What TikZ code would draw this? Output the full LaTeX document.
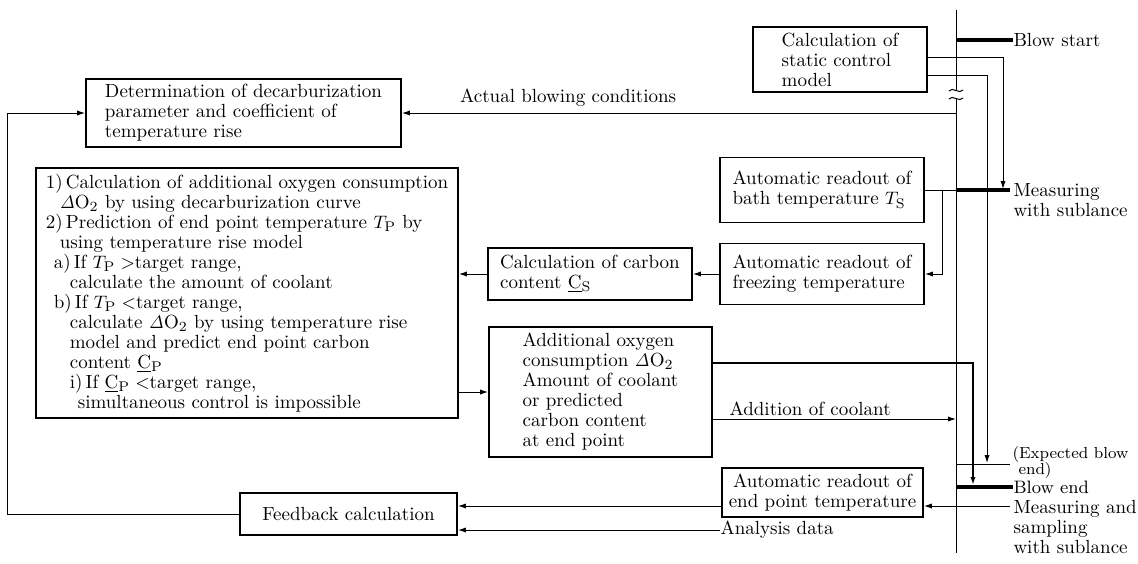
\documentclass[tikz,border=0pt]{standalone}
\usetikzlibrary{arrows.meta}

\tikzset{
  box/.style={draw, line width=0.9pt, inner sep=0pt, align=left,
              font=\fontsize{9.5}{10}\selectfont},
  lbl/.style={inner sep=0pt, align=left, font=\fontsize{9.5}{10}\selectfont},
  arr/.style={-{Latex[length=4pt,width=2.6pt]}},
  heavy/.style={line width=1.6pt},
}

\begin{document}
\begin{tikzpicture}[x=0.5pt,y=-0.5pt,line width=0.5pt]
   \useasboundingbox (0,0) rectangle (1138,563);

   % boxes
   \node[box, minimum width=157.5pt, minimum height=34pt] (det) at (243.5,113)
      {Determination of decarburization\\parameter and coefficient of\\temperature rise};
   \node[box, minimum width=87pt, minimum height=32.5pt] (static) at (840,59.5)
      {Calculation of\\static control\\model};
   \node[box, minimum width=211pt, minimum height=125pt] (calc) at (247,293)
      {1)\,Calculation of additional oxygen consumption\\
       \hspace*{7pt}$\mathit{\Delta}$O$_2$ by using decarburization curve\\
       2)\,Prediction of end point temperature $T_{\mathrm P}$ by\\
       \hspace*{7pt}using temperature rise model\\
       \hspace*{4pt}a)\,If $T_{\mathrm P}>$target range,\\
       \hspace*{12pt}calculate the amount of coolant\\
       \hspace*{4pt}b)\,If $T_{\mathrm P}<$target range,\\
       \hspace*{12pt}calculate $\mathit{\Delta}$O$_2$ by using temperature rise\\
       \hspace*{12pt}model and predict end point carbon\\
       \hspace*{12pt}content \underline{C}$_{\mathrm P}$\\
       \hspace*{12pt}i)\,If \underline{C}$_{\mathrm P}<$target range,\\
       \hspace*{16pt}simultaneous control is impossible};
   \node[box, minimum width=102pt, minimum height=32.5pt] (bath) at (822,190)
      {Automatic readout of\\bath temperature $T_{\mathrm S}$};
   \node[box, minimum width=102pt, minimum height=30.5pt] (freeze) at (822,274)
      {Automatic readout of\\freezing temperature};
   \node[box, minimum width=102pt, minimum height=26pt] (carbon) at (590,274)
      {Calculation of carbon\\content \underline{C}$_{\mathrm S}$};
   \node[box, minimum width=111.5pt, minimum height=65pt] (addox) at (600.5,392)
      {Additional oxygen\\consumption $\mathit{\Delta}$O$_2$\\Amount of coolant\\or predicted\\carbon content\\at end point};
   \node[box, align=center, minimum width=100.5pt, minimum height=24.5pt] (endpt) at (822.5,492.5)
      {Automatic readout of\\end point temperature};
   \node[box, minimum width=108.5pt, minimum height=21pt] (fback) at (348.5,514)
      {Feedback calculation};

   % time axis of the blow
   \coordinate (tltop) at (956,10);
   \coordinate (brkA) at (956,90);
   \coordinate (brkB) at (956,98);
   \coordinate (tlbot) at (956,553);
   \draw (tltop) -- (brkA);
   \draw (brkB) -- (tlbot);
   \draw (949,91) .. controls (952,86) and (960,95) .. (963,90);
   \draw (949,99) .. controls (952,94) and (960,103) .. (963,98);

   % events
   \node[lbl, anchor=west] (start) at (1013,40) {Blow start};
   \node[lbl, anchor=west] (measA) at (1013,200) {Measuring\\with sublance};
   \node[lbl, anchor=west, font=\fontsize{8}{8}\selectfont] (expct) at (1012,462)
      {(Expected blow\\\hspace*{3pt}end)};
   \node[lbl, anchor=west, font=\fontsize{9}{9}\selectfont] (bend) at (1013,487) {Blow end};
   \node[lbl, anchor=west] (measB) at (1013,527) {Measuring and\\sampling\\with sublance};
   \node[lbl, anchor=west] (anal) at (720,530) {Analysis data};

   \coordinate (sA) at (1010,190);
   \coordinate (eA) at (1010,464);
   \coordinate (mB) at (1010,506);
   \coordinate (sT) at (1003,189);
   \coordinate (eT) at (987,463);
   \coordinate (bT) at (973,485);
   \coordinate (jn) at (942,190);

   \draw[heavy] (start.west -| tltop) -- (start.west);
   \draw[heavy] (sA -| tltop) -- (sA);
   \draw (eA -| tltop) -- (eA);
   \draw[heavy] (bend.west -| tltop) -- (bend.west);

   % connectors
   \draw[arr] ([yshift=1pt]static.east) -| (sT);
   \draw[arr] ([yshift=-8pt]static.east) -| (eT);
   \draw[arr] (det.east -| tltop) -- (det.east)
      node[lbl, above=3pt, pos=0.7] (actual) {Actual blowing conditions};
   \draw (bath.east) -- (bath.east -| tltop);
   \draw[arr] (jn) |- (freeze.east);
   \draw[arr] (freeze.west) -- (carbon.east);
   \draw[arr] (carbon.west) -- (calc.east |- carbon.west);
   \draw[arr] (calc.east |- addox.west) -- (addox.west);
   \draw[arr, line width=0.9pt] ([yshift=14.5pt]addox.east) -| (bT);
   \draw[arr] ([yshift=-13.5pt]addox.east) -- ([yshift=-13.5pt]addox.east -| tltop)
      node[lbl, above=1.5pt, pos=0.4] (coolant) {Addition of coolant};
   \draw[arr] (mB) -- (endpt.east |- mB);
   \draw[arr] (endpt.west |- mB) -- (fback.east |- mB);
   \draw[arr] (anal.west) -- (fback.east |- anal.west);
   \draw[arr] (fback.west) -| ([xshift=-39pt]det.west) -- (det.west);
\end{tikzpicture}
\end{document}
